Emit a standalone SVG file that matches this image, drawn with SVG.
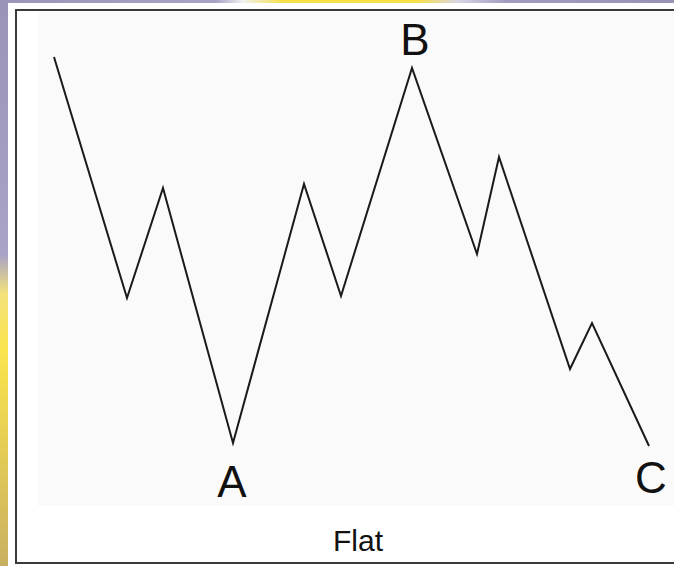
<svg xmlns="http://www.w3.org/2000/svg" width="674" height="566" viewBox="0 0 674 566">
  <defs>
    <linearGradient id="leftbg" x1="0" y1="0" x2="0" y2="1">
      <stop offset="0" stop-color="#9a94b8"/>
      <stop offset="0.45" stop-color="#a9a3c6"/>
      <stop offset="0.52" stop-color="#f4e27a"/>
      <stop offset="0.62" stop-color="#fbe44c"/>
      <stop offset="1" stop-color="#c9b060"/>
    </linearGradient>
    <linearGradient id="topbg" x1="0" y1="0" x2="1" y2="0">
      <stop offset="0" stop-color="#9a94b8"/>
      <stop offset="0.32" stop-color="#a8a3c4"/>
      <stop offset="0.36" stop-color="#f0f0f0"/>
      <stop offset="0.42" stop-color="#f6e04a"/>
      <stop offset="0.62" stop-color="#f6e04a"/>
      <stop offset="0.68" stop-color="#d8d4e6"/>
      <stop offset="0.75" stop-color="#a29dc0"/>
      <stop offset="1" stop-color="#9893b6"/>
    </linearGradient>
    <style>
      .lbl { font-family: "Liberation Sans", Arial, sans-serif; fill: #111; text-anchor: middle; }
      .wave { fill: none; stroke: #1a1a1a; stroke-width: 2; stroke-linejoin: miter; }
    </style>
  </defs>
  <rect x="0" y="0" width="674" height="566" fill="url(#leftbg)"/>
  <rect x="0" y="0" width="674" height="4" fill="url(#topbg)"/>
  <rect x="8" y="3" width="666" height="563" fill="#ffffff"/>
  <g id="frame">
    <path d="M674 10 H16 V563 H674" fill="none" stroke="#3a3a3a" stroke-width="2"/>
    <rect x="38" y="12" width="636" height="494" fill="#fafafa"/>
  </g>
  <g id="connectors">
    <polyline class="wave" points="54,57 127,298 163,188 233,443 304,184 341,296 412,68 477,254 499,157 570,369 592,323 649,446"/>
  </g>
  <g id="label-B"><text class="lbl" x="415" y="55" font-size="44">B</text></g>
  <g id="label-A"><text class="lbl" x="232" y="497" font-size="44">A</text></g>
  <g id="label-C"><text class="lbl" x="651" y="493" font-size="44">C</text></g>
  <g id="caption"><text class="lbl" x="358" y="551" font-size="30">Flat</text></g>
</svg>
